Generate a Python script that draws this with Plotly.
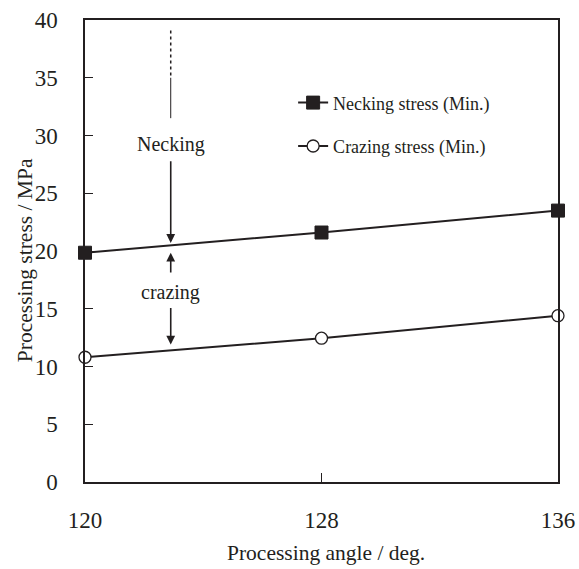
import plotly.graph_objects as go

angles = [120, 128, 136]
necking_stress = [19.85, 21.6, 23.5]
crazing_stress = [10.8, 12.45, 14.4]
x_ticks = [120, 128, 136]
y_ticks = [0, 5, 10, 15, 20, 25, 30, 35, 40]

FONT = "Liberation Serif"
INK = "#231f20"

fig = go.Figure()
fig.add_trace(go.Scatter(
    x=angles, y=necking_stress, mode="lines+markers",
    name="Necking stress (Min.)", legendgroup="a",
    line=dict(color=INK, width=2),
    marker=dict(symbol="square", size=13, color=INK, line=dict(color=INK, width=1)),
    cliponaxis=False,
))
fig.add_trace(go.Scatter(
    x=angles, y=crazing_stress, mode="lines+markers",
    name="Crazing stress (Min.)", legendgroup="b",
    line=dict(color=INK, width=2),
    marker=dict(symbol="circle", size=12, color="white", line=dict(color=INK, width=1.3)),
    cliponaxis=False,
))

xa = 122.9
# dotted and thin guide line above "Necking"
fig.add_shape(type="line", x0=xa, x1=xa, y0=39.1, y1=35.0, xref="x", yref="y",
              line=dict(color=INK, width=1.5, dash="dot"))
fig.add_shape(type="line", x0=xa, x1=xa, y0=35.0, y1=31.5, xref="x", yref="y",
              line=dict(color=INK, width=1))

fig.add_annotation(x=xa, y=29.2, text="Necking", showarrow=False,
                   font=dict(family=FONT, size=20, color=INK))
fig.add_annotation(x=xa, y=16.4, text="crazing", showarrow=False,
                   font=dict(family=FONT, size=20, color=INK))

def arrow(y_tail, y_head):
    fig.add_annotation(x=xa, y=y_head, ax=xa, ay=y_tail, xref="x", yref="y",
                       axref="x", ayref="y", text="", showarrow=True,
                       arrowhead=2, arrowsize=1.1, arrowwidth=1.6, arrowcolor=INK)

arrow(27.9, 20.7)
arrow(18.0, 19.85)
arrow(15.2, 11.9)

# axis titles
fig.add_annotation(x=0.51, y=-0.154, xref="paper", yref="paper", text="Processing angle / deg.",
                   showarrow=False, xanchor="center", yanchor="middle",
                   font=dict(family=FONT, size=21.5, color=INK))
fig.add_annotation(x=-0.127, y=0.48, xref="paper", yref="paper", text="Processing stress / MPa",
                   showarrow=False, xanchor="center", yanchor="middle", textangle=-90,
                   font=dict(family=FONT, size=21.5, color=INK))

fig.update_layout(
    width=579, height=569,
    margin=dict(l=85, r=21, t=20, b=87),
    paper_bgcolor="white", plot_bgcolor="white",
    font=dict(family=FONT, size=23, color=INK),
    showlegend=True,
    legend=dict(x=0.44, y=0.774, xanchor="left", yanchor="middle",
                bgcolor="rgba(0,0,0,0)", font=dict(family=FONT, size=18, color=INK),
                tracegroupgap=17, itemwidth=30),
)
fig.update_xaxes(range=[120, 136], tickvals=x_ticks, ticks="inside", ticklen=9,
                 tickwidth=1, tickcolor=INK, showline=True, linecolor=INK, linewidth=1.5,
                 mirror=True, showgrid=False, zeroline=False, ticklabelstandoff=17,
                 automargin=False)
fig.update_yaxes(range=[0, 40], tickvals=y_ticks, ticks="inside", ticklen=8,
                 tickwidth=1, tickcolor=INK, showline=True, linecolor=INK, linewidth=1.5,
                 mirror=True, showgrid=False, zeroline=False, ticklabelstandoff=21,
                 automargin=False)

# remove the default 8px page margin so the figure sits at the window's top-left corner
fig.write_html("out.html", config={"displayModeBar": False},
               post_script="document.body.style.margin='0px';document.body.style.overflow='hidden';")
